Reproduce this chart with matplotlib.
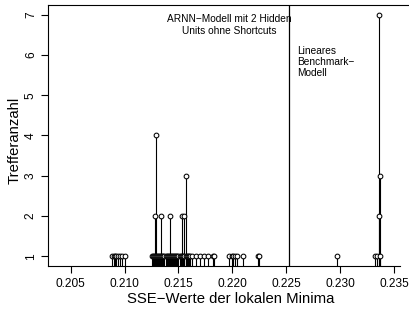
import matplotlib
matplotlib.use("Agg")
import matplotlib.pyplot as plt

plt.rcParams['font.family'] = ['Liberation Sans', 'DejaVu Sans']

# SSE values of local minima and their hit counts
sse_values = [
    0.2088, 0.2090, 0.2091, 0.2092, 0.2094, 0.2096, 0.2098, 0.2100,
    0.2125, 0.2126, 0.2127, 0.2128, 0.2129, 0.2130, 0.2131, 0.2132, 0.2133,
    0.2134, 0.2135, 0.2136, 0.2137, 0.2138, 0.2139, 0.2140, 0.2141, 0.2142,
    0.2143, 0.2144, 0.2145, 0.2146, 0.2147, 0.2148, 0.2149, 0.2150, 0.2151,
    0.2152, 0.2153, 0.2154, 0.2155, 0.2157, 0.2158, 0.2159, 0.2160, 0.2161,
    0.21282, 0.21335, 0.21420, 0.21530, 0.21550,
    0.21290,
    0.21567,
    0.21623, 0.21663, 0.21700, 0.21737, 0.21777, 0.21818, 0.21830,
    0.21972, 0.21994, 0.22009, 0.22024, 0.22046, 0.22099,
    0.22238, 0.22244,
    0.22968,
    0.23326, 0.23345, 0.23370,
    0.23362, 0.23366, 0.23364,
]
hit_counts = [
    1, 1, 1, 1, 1, 1, 1, 1,
    1, 1, 1, 1, 1, 1, 1, 1, 1,
    1, 1, 1, 1, 1, 1, 1, 1, 1,
    1, 1, 1, 1, 1, 1, 1, 1, 1,
    1, 1, 1, 1, 1, 1, 1, 1, 1,
    2, 2, 2, 2, 2,
    4,
    3,
    1, 1, 1, 1, 1, 1, 1,
    1, 1, 1, 1, 1, 1,
    1, 1,
    1,
    1, 1, 1,
    2, 3, 7,
]
benchmark_sse = 0.2253
x_ticks = [0.205, 0.210, 0.215, 0.220, 0.225, 0.230, 0.235]
x_tick_labels = ["0.205", "0.210", "0.215", "0.220", "0.225", "0.230", "0.235"]
y_ticks = [1, 2, 3, 4, 5, 6, 7]

fig = plt.figure(figsize=(4.09, 3.09), dpi=100)
ax = fig.add_axes([48/409, 43/309, 361/409, 261/309])

ax.set_xlim(0.20289, 0.23639)
ax.set_ylim(0.76, 7.24)

ax.vlines(sse_values, 0, hit_counts, colors='black', linewidth=0.8)
ax.plot(sse_values, hit_counts, linestyle='none', marker='o', markersize=3.4,
        markerfacecolor='white', markeredgecolor='black', markeredgewidth=0.75)
ax.axvline(benchmark_sse, color='black', linewidth=0.9)

ax.text(0.21973, 6.744, "ARNN\u2212Modell mit 2 Hidden\nUnits ohne Shortcuts",
        ha='center', va='center', fontsize=7.3, linespacing=1.2)
ax.text(0.22602, 5.825, "Lineares\nBenchmark\u2212\nModell",
        ha='left', va='center', fontsize=7.3, linespacing=1.15)

ax.set_xticks(x_ticks)
ax.set_xticklabels(x_tick_labels)
ax.set_yticks(y_ticks)
ax.set_yticklabels([str(v) for v in y_ticks], rotation=90, va='center')
ax.tick_params(axis='both', direction='out', length=5, width=0.8, labelsize=8.6,
               color='black')
ax.tick_params(axis='x', pad=3.5)
ax.tick_params(axis='y', pad=3)

for side in ['left', 'top', 'bottom']:
    ax.spines[side].set_linewidth(0.8)
    ax.spines[side].set_color('black')
ax.spines['right'].set_visible(False)
ax.spines['bottom'].set_bounds(0.20289, 0.23555)

ax.set_xlabel("SSE\u2212Werte der lokalen Minima", fontsize=10.7)
ax.xaxis.set_label_coords(0.5055, -0.1276)
ax.xaxis.label.set_va('center')
ax.set_ylabel("Trefferanzahl", fontsize=10.7)
ax.yaxis.set_label_coords(-0.0914, 0.48)
ax.yaxis.label.set_va('center')

fig.savefig("out.png", dpi=100)
